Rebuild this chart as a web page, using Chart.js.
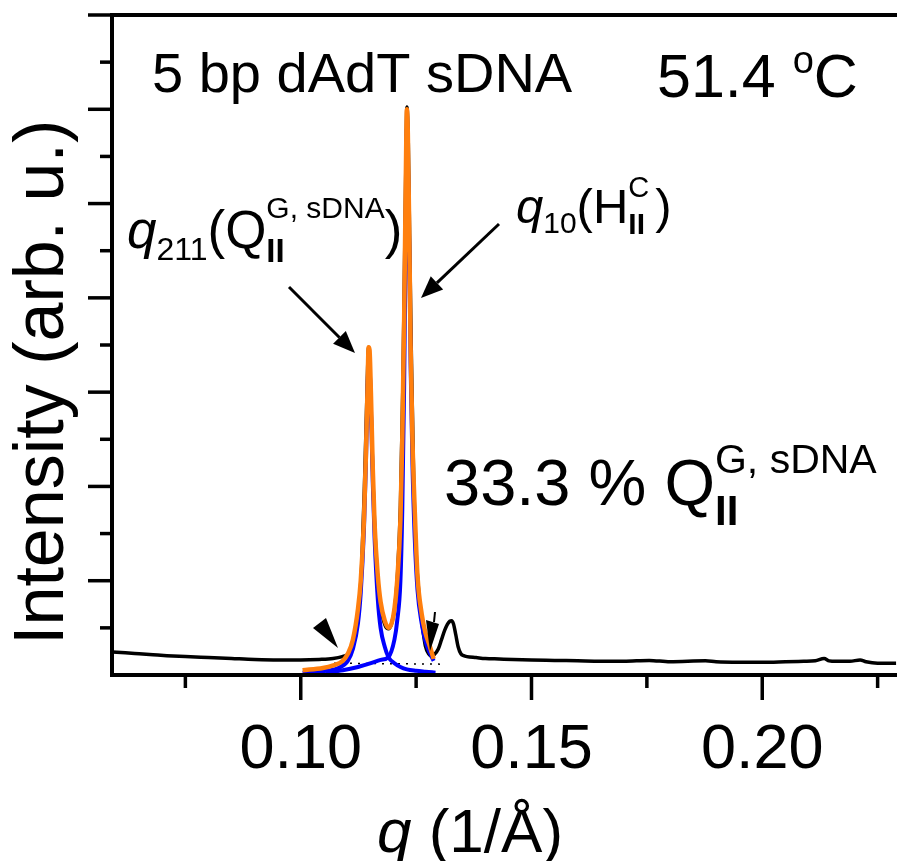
<!DOCTYPE html>
<html>
<head>
<meta charset="utf-8">
<script src="https://cdn.jsdelivr.net/npm/chart.js@4/dist/chart.umd.min.js"></script>
<style>
  html, body { margin: 0; padding: 0; background: #fff; }
  canvas { display: block; }
</style>
</head>
<body>
<canvas id="myChart" width="897" height="861"></canvas>
<script>
// measured curve (black)
var qBlack = [0.0592,0.062,0.065,0.068,0.071,0.075,0.080,0.085,0.090,0.095,0.100,0.104,0.107,0.109,0.1102,0.111,0.1118,0.1125,0.1132,0.1138,0.1143,0.1147,0.1151,0.1156,0.1162,0.1168,0.1175,0.1183,0.119,0.1197,0.1204,0.121,0.1216,0.1221,0.1225,0.1228,0.123,0.1233,0.1236,0.124,0.1245,0.125,0.1257,0.1264,0.127,0.1277,0.1284,0.129,0.1298,0.1305,0.1312,0.1318,0.1323,0.1327,0.1331,0.1336,0.1341,0.1347,0.1353,0.136,0.138,0.140,0.143,0.146,0.150,0.155,0.160,0.165,0.170,0.1755,0.180,0.1877,0.190,0.195,0.200,0.205,0.209,0.2115,0.2134,0.2145,0.216,0.219,0.2212,0.2225,0.225,0.229];
var iBlack = [0.49,0.47,0.45,0.43,0.41,0.39,0.37,0.35,0.33,0.32,0.32,0.33,0.35,0.39,0.44,0.55,0.8,1.3,2.3,4.0,5.8,6.95,6.2,4.3,2.8,1.9,1.35,1.05,0.98,1.1,1.45,2.2,3.6,6.0,8.8,11.0,12.05,11.3,9.2,6.6,4.0,2.6,1.6,1.0,0.62,0.45,0.4,0.44,0.55,0.75,0.95,1.08,1.14,1.15,1.08,0.85,0.6,0.45,0.41,0.39,0.37,0.35,0.34,0.33,0.32,0.31,0.30,0.29,0.29,0.31,0.28,0.30,0.28,0.27,0.27,0.28,0.29,0.30,0.35,0.30,0.29,0.29,0.32,0.28,0.25,0.25];

// fitted peaks (blue) and their sum (orange)
var qPeak1 = [0.1004,0.1048,0.108,0.1102,0.1113,0.1124,0.113,0.1137,0.1141,0.1145,0.1147,0.1149,0.1152,0.1156,0.116,0.1167,0.1173,0.1182,0.119,0.1203,0.1216,0.123,0.125,0.127,0.1292];
var iPeak1 = [0.05,0.08,0.14,0.3,0.55,1.1,1.75,3.1,4.4,6.1,6.7,6.6,5.7,4.1,2.9,1.6,1.0,0.6,0.38,0.25,0.17,0.12,0.09,0.07,0.05];
var qPeak2 = [0.1054,0.1091,0.1124,0.1152,0.1173,0.119,0.1203,0.1209,0.1216,0.122,0.1224,0.1227,0.1229,0.123,0.1232,0.1235,0.1238,0.1242,0.1247,0.1253,0.1262,0.127,0.128,0.1288];
var iPeak2 = [0.05,0.1,0.17,0.25,0.32,0.38,0.75,1.15,2.0,3.5,6.1,8.9,11.0,11.6,11.0,9.1,6.6,4.5,2.9,1.8,1.1,0.72,0.46,0.3];
var qSum = [0.1004,0.1048,0.1069,0.1091,0.1102,0.1113,0.1124,0.113,0.1137,0.1141,0.1145,0.1147,0.1149,0.1152,0.1156,0.116,0.1167,0.1173,0.1182,0.119,0.1197,0.1203,0.1209,0.1216,0.122,0.1224,0.1227,0.1229,0.123,0.1232,0.1235,0.1238,0.1242,0.1247,0.1253,0.1262,0.127,0.128,0.1288];
var iSum = [0.1,0.15,0.2,0.3,0.45,0.75,1.4,2.0,3.3,4.6,6.2,6.95,6.9,6.0,4.4,3.2,2.1,1.55,1.15,1.0,1.1,1.4,2.0,3.3,5.0,7.5,10.0,11.6,12.0,11.5,9.5,7.0,5.0,3.5,2.1,1.3,0.9,0.6,0.34];

// background line (dotted)
var qBase = [0.1072,0.1307];
var iBase = [0.25,0.23];

var xTicks = [0.10,0.15,0.20];
var xTickLabels = ['0.10','0.15','0.20'];
var xMinorTicks = [0.075,0.125,0.175,0.225];

function puntos(qs, is){
    var arr = [];
    for (var i = 0; i < qs.length; i++) arr.push({x: qs[i], y: is[i]});
    return arr;
}

var fuente = '"Liberation Sans", Arial, sans-serif';

// draws text pieces one after another, with sub/superscripts
function textoRuns(ctx, x, y, runs){
    var cx = x;
    runs.forEach(function(r){
        if (r.stack){
            var w = 0;
            r.stack.forEach(function(s){
                ctx.font = (s.bold ? 'bold ' : '') + s.size + 'px ' + fuente;
                ctx.fillText(s.t, cx, y + s.dy);
                w = Math.max(w, ctx.measureText(s.t).width);
            });
            cx += w + (r.gap || 0);
            return;
        }
        ctx.font = (r.italic ? 'italic ' : '') + (r.bold ? 'bold ' : '') + r.size + 'px ' + fuente;
        ctx.fillText(r.t, cx, y + (r.dy || 0));
        cx += ctx.measureText(r.t).width + (r.gap || 0);
    });
}

function flecha(ctx, x1, y1, x2, y2){
    var ang = Math.atan2(y2 - y1, x2 - x1);
    var L = 22, W = 9;
    var bx = x2 - L * Math.cos(ang), by = y2 - L * Math.sin(ang);
    ctx.beginPath();
    ctx.moveTo(x1, y1);
    ctx.lineTo(bx, by);
    ctx.stroke();
    ctx.beginPath();
    ctx.moveTo(x2, y2);
    ctx.lineTo(bx + W * Math.sin(ang), by - W * Math.cos(ang));
    ctx.lineTo(bx - W * Math.sin(ang), by + W * Math.cos(ang));
    ctx.closePath();
    ctx.fill();
}

var decorado = {
    id: 'decorado',
    afterDatasetsDraw: function(chart){
        var ctx = chart.ctx;
        var xs = chart.scales.x, ys = chart.scales.y;
        var a = chart.chartArea;
        ctx.save();
        ctx.strokeStyle = '#000';
        ctx.fillStyle = '#000';
        ctx.lineWidth = 4;
        ctx.lineCap = 'butt';

        // frame: left, bottom, top
        ctx.beginPath();
        ctx.moveTo(a.left, a.top - 2);
        ctx.lineTo(a.left, a.bottom + 2);
        ctx.moveTo(a.left - 2, a.bottom);
        ctx.lineTo(a.right, a.bottom);
        ctx.moveTo(a.left, a.top);
        ctx.lineTo(a.right, a.top);
        ctx.stroke();

        // y ticks
        ctx.lineWidth = 3.5;
        for (var v = 1; v <= 14; v++){
            var py = ys.getPixelForValue(v);
            var largo = (v % 2 == 0) ? 24 : 12;
            ctx.beginPath();
            ctx.moveTo(a.left - largo, py);
            ctx.lineTo(a.left, py);
            ctx.stroke();
        }
        // x ticks
        xTicks.forEach(function(t){
            var px = xs.getPixelForValue(t);
            ctx.beginPath();
            ctx.moveTo(px, a.bottom);
            ctx.lineTo(px, a.bottom + 25);
            ctx.stroke();
        });
        xMinorTicks.forEach(function(t){
            var px = xs.getPixelForValue(t);
            ctx.beginPath();
            ctx.moveTo(px, a.bottom);
            ctx.lineTo(px, a.bottom + 13);
            ctx.stroke();
        });

        // x tick labels
        ctx.textAlign = 'center';
        ctx.textBaseline = 'alphabetic';
        ctx.font = '63px ' + fuente;
        xTicks.forEach(function(t, i){
            ctx.fillText(xTickLabels[i], xs.getPixelForValue(t), 768);
        });

        ctx.textAlign = 'left';
        // x title
        textoRuns(ctx, 377, 852, [
            {t: 'q', size: 62, italic: true},
            {t: ' (1/Å)', size: 62}
        ]);

        // y title
        ctx.save();
        ctx.translate(63, 645);
        ctx.rotate(-Math.PI / 2);
        ctx.font = '70px ' + fuente;
        ctx.fillText('Intensity (arb. u.)', 0, 0);
        ctx.restore();

        // labels inside the plot
        ctx.font = '56px ' + fuente;
        ctx.fillText('5 bp dAdT sDNA', 152, 92);
        textoRuns(ctx, 657, 97, [
            {t: '51.4 ', size: 61},
            {t: 'o', size: 38, dy: -24},
            {t: 'C', size: 61}
        ]);
        textoRuns(ctx, 127, 248, [
            {t: 'q', size: 53, italic: true},
            {t: '211', size: 32, dy: 12},
            {t: '(Q', size: 53},
            {stack: [{t: 'G, sDNA', size: 30, dy: -30}, {t: 'II', size: 33, dy: 14, bold: true}]},
            {t: ')', size: 53}
        ]);
        textoRuns(ctx, 516, 223, [
            {t: 'q', size: 49, italic: true},
            {t: '10', size: 30, dy: 10},
            {t: '(H', size: 49},
            {stack: [{t: 'C', size: 29, dy: -26}, {t: 'II', size: 30, dy: 11, bold: true}], gap: 6},
            {t: ')', size: 49}
        ]);
        textoRuns(ctx, 444, 505, [
            {t: '33.3 % Q', size: 65},
            {stack: [{t: 'G, sDNA', size: 41, dy: -32}, {t: 'II', size: 42, dy: 20, bold: true}]}
        ]);

        // arrows
        ctx.lineWidth = 3;
        flecha(ctx, 289, 287, 355, 353);
        flecha(ctx, 499, 224, 421, 298);

        // small filled arrowheads at the peak feet
        ctx.beginPath();
        ctx.moveTo(313, 628);
        ctx.lineTo(326, 618);
        ctx.lineTo(338, 648);
        ctx.closePath();
        ctx.fill();
        ctx.beginPath();
        ctx.moveTo(426, 620);
        ctx.lineTo(439, 624);
        ctx.lineTo(430, 651);
        ctx.closePath();
        ctx.fill();
        ctx.lineWidth = 2;
        ctx.beginPath();
        ctx.moveTo(435, 612);
        ctx.lineTo(434, 622);
        ctx.stroke();

        ctx.restore();
    }
};

var ctx = document.getElementById('myChart');
var chart = new Chart(ctx, {
    type: 'scatter',
    data: {
        datasets: [{
            label: 'suma',
            data: puntos(qSum, iSum),
            showLine: true,
            borderColor: '#ff7f0e',
            borderWidth: 4.5,
            pointRadius: 0,
            cubicInterpolationMode: 'monotone',
            order: 0
        }, {
            label: 'pico 1',
            data: puntos(qPeak1, iPeak1),
            showLine: true,
            borderColor: '#0000ff',
            borderWidth: 4,
            pointRadius: 0,
            cubicInterpolationMode: 'monotone',
            order: 1
        }, {
            label: 'pico 2',
            data: puntos(qPeak2, iPeak2),
            showLine: true,
            borderColor: '#0000ff',
            borderWidth: 4,
            pointRadius: 0,
            cubicInterpolationMode: 'monotone',
            order: 2
        }, {
            label: 'fondo',
            data: puntos(qBase, iBase),
            showLine: true,
            borderColor: '#000',
            borderWidth: 1.5,
            borderDash: [2, 6],
            pointRadius: 0,
            order: 3
        }, {
            label: 'medido',
            data: puntos(qBlack, iBlack),
            showLine: true,
            borderColor: '#000',
            borderWidth: 3.5,
            pointRadius: 0,
            cubicInterpolationMode: 'monotone',
            order: 4
        }]
    },
    options: {
        responsive: false,
        animation: false,
        layout: { padding: { top: 15, right: 0, left: 0, bottom: 0 } },
        plugins: { legend: { display: false }, tooltip: { enabled: false } },
        scales: {
            x: {
                type: 'linear',
                min: 0.0591,
                max: 0.2292,
                grid: { display: false },
                border: { display: false },
                ticks: { display: false },
                afterFit: function(s){ s.height = 186; }
            },
            y: {
                min: 0,
                max: 14,
                grid: { display: false },
                border: { display: false },
                ticks: { display: false },
                afterFit: function(s){ s.width = 112; }
            }
        }
    },
    plugins: [decorado]
});
</script>
</body>
</html>
